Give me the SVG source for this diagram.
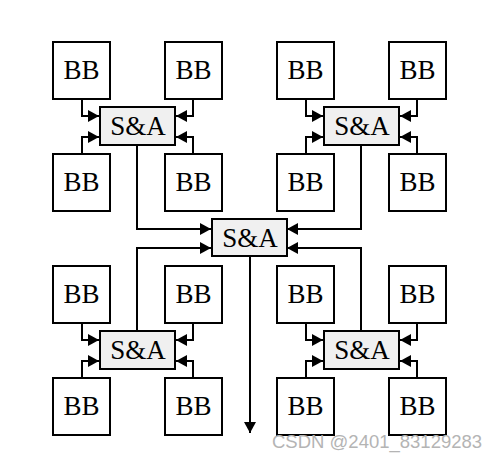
<svg xmlns="http://www.w3.org/2000/svg" width="497" height="461" viewBox="0 0 497 461">
<style>
.bb{fill:#fff;stroke:#000;stroke-width:2}
.sa{fill:#f0f0f0;stroke:#000;stroke-width:2}
.t{font-family:"Liberation Serif","Times New Roman",serif;font-size:27px;text-anchor:middle;fill:#000}
.c{fill:none;stroke:#000;stroke-width:2}
.wm{font-family:"Liberation Sans",Arial,sans-serif;font-size:18.5px;fill:#b4b4b4}
</style>
<defs>
<marker id="ah" markerUnits="userSpaceOnUse" markerWidth="12" markerHeight="12" refX="11" refY="6" orient="auto">
<path d="M0,0 L11,6 L0,12 Z" fill="#000"/>
</marker>
</defs>
<g id="connectors">
<path class="c" d="M82,99 V116 H99" marker-end="url(#ah)"/>
<path class="c" d="M82,154 V137 H99" marker-end="url(#ah)"/>
<path class="c" d="M193,99 V116 H176" marker-end="url(#ah)"/>
<path class="c" d="M193,154 V137 H176" marker-end="url(#ah)"/>
<path class="c" d="M306,99 V116 H323" marker-end="url(#ah)"/>
<path class="c" d="M306,154 V137 H323" marker-end="url(#ah)"/>
<path class="c" d="M417,99 V116 H400" marker-end="url(#ah)"/>
<path class="c" d="M417,154 V137 H400" marker-end="url(#ah)"/>
<path class="c" d="M82,323 V340 H99" marker-end="url(#ah)"/>
<path class="c" d="M82,378 V361 H99" marker-end="url(#ah)"/>
<path class="c" d="M193,323 V340 H176" marker-end="url(#ah)"/>
<path class="c" d="M193,378 V361 H176" marker-end="url(#ah)"/>
<path class="c" d="M306,323 V340 H323" marker-end="url(#ah)"/>
<path class="c" d="M306,378 V361 H323" marker-end="url(#ah)"/>
<path class="c" d="M417,323 V340 H400" marker-end="url(#ah)"/>
<path class="c" d="M417,378 V361 H400" marker-end="url(#ah)"/>
<path class="c" d="M137,145 V229 H211" marker-end="url(#ah)"/>
<path class="c" d="M137,331 V248 H211" marker-end="url(#ah)"/>
<path class="c" d="M361,145 V229 H287" marker-end="url(#ah)"/>
<path class="c" d="M361,331 V248 H287" marker-end="url(#ah)"/>
<path class="c" d="M250,256 V433" marker-end="url(#ah)"/>
</g>
<g id="bb1"><rect class="bb" x="53" y="42" width="57" height="57"/><text class="t" x="81.5" y="78.5">BB</text></g>
<g id="bb2"><rect class="bb" x="165" y="42" width="57" height="57"/><text class="t" x="193.5" y="78.5">BB</text></g>
<g id="bb3"><rect class="bb" x="53" y="154" width="57" height="57"/><text class="t" x="81.5" y="190.5">BB</text></g>
<g id="bb4"><rect class="bb" x="165" y="154" width="57" height="57"/><text class="t" x="193.5" y="190.5">BB</text></g>
<g id="bb5"><rect class="bb" x="277" y="42" width="57" height="57"/><text class="t" x="305.5" y="78.5">BB</text></g>
<g id="bb6"><rect class="bb" x="389" y="42" width="57" height="57"/><text class="t" x="417.5" y="78.5">BB</text></g>
<g id="bb7"><rect class="bb" x="277" y="154" width="57" height="57"/><text class="t" x="305.5" y="190.5">BB</text></g>
<g id="bb8"><rect class="bb" x="389" y="154" width="57" height="57"/><text class="t" x="417.5" y="190.5">BB</text></g>
<g id="bb9"><rect class="bb" x="53" y="266" width="57" height="57"/><text class="t" x="81.5" y="302.5">BB</text></g>
<g id="bb10"><rect class="bb" x="165" y="266" width="57" height="57"/><text class="t" x="193.5" y="302.5">BB</text></g>
<g id="bb11"><rect class="bb" x="53" y="378" width="57" height="57"/><text class="t" x="81.5" y="414.5">BB</text></g>
<g id="bb12"><rect class="bb" x="165" y="378" width="57" height="57"/><text class="t" x="193.5" y="414.5">BB</text></g>
<g id="bb13"><rect class="bb" x="277" y="266" width="57" height="57"/><text class="t" x="305.5" y="302.5">BB</text></g>
<g id="bb14"><rect class="bb" x="389" y="266" width="57" height="57"/><text class="t" x="417.5" y="302.5">BB</text></g>
<g id="bb15"><rect class="bb" x="277" y="378" width="57" height="57"/><text class="t" x="305.5" y="414.5">BB</text></g>
<g id="bb16"><rect class="bb" x="389" y="378" width="57" height="57"/><text class="t" x="417.5" y="414.5">BB</text></g>
<g id="sa1"><rect class="sa" x="100" y="107" width="75" height="38"/><text class="t" x="138" y="135">S&amp;A</text></g>
<g id="sa2"><rect class="sa" x="324" y="107" width="75" height="38"/><text class="t" x="362" y="135">S&amp;A</text></g>
<g id="sa3"><rect class="sa" x="100" y="331" width="75" height="38"/><text class="t" x="138" y="359">S&amp;A</text></g>
<g id="sa4"><rect class="sa" x="324" y="331" width="75" height="38"/><text class="t" x="362" y="359">S&amp;A</text></g>
<g id="sa0"><rect class="sa" x="212" y="219" width="75" height="37"/><text class="t" x="250" y="247">S&amp;A</text></g>
<text class="wm" x="272" y="448">CSDN @2401_83129283</text>
</svg>
